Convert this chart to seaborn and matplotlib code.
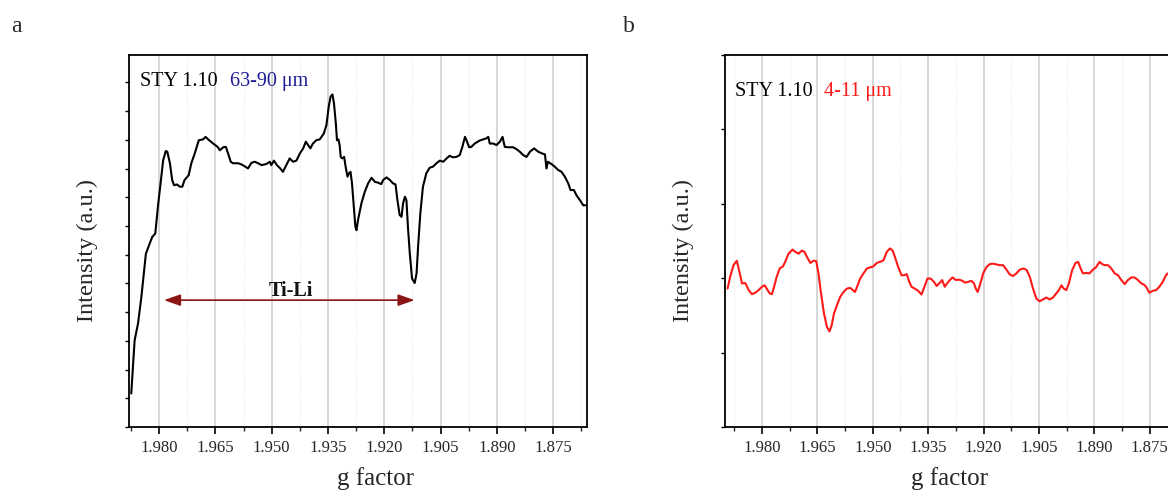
import numpy as np
import pandas as pd
import matplotlib
matplotlib.use("Agg")
import matplotlib.pyplot as plt
from matplotlib.ticker import MultipleLocator, NullFormatter
import seaborn as sns

# ---------------- data ----------------
g_a = [1.9874, 1.9865, 1.9856, 1.9847, 1.9835, 1.9825, 1.9818, 1.9810, 1.9803, 1.9796,
       1.9789, 1.9782, 1.9778, 1.9771, 1.9765, 1.9760, 1.9752, 1.9745, 1.9738, 1.9732,
       1.9721, 1.9714, 1.9705, 1.9694, 1.9683, 1.9676, 1.9669, 1.9656, 1.9644, 1.9638,
       1.9629, 1.9622, 1.9616, 1.9609, 1.9603, 1.9589, 1.9581, 1.9572, 1.9563, 1.9554,
       1.9545, 1.9536, 1.9527, 1.9514, 1.9505, 1.9501, 1.9494, 1.9486, 1.9477, 1.9470,
       1.9461, 1.9452, 1.9443, 1.9434, 1.9425, 1.9416, 1.9409, 1.9403, 1.9397, 1.9390,
       1.9381, 1.9372, 1.9361, 1.9354, 1.9348, 1.9343, 1.9338, 1.9334, 1.9329, 1.9326,
       1.9322, 1.9319, 1.9316, 1.9312, 1.9307, 1.9303, 1.9298, 1.9294, 1.9290, 1.9286,
       1.9281, 1.9277, 1.9274, 1.9270, 1.9261, 1.9252, 1.9243, 1.9234, 1.9225, 1.9217,
       1.9208, 1.9203, 1.9194, 1.9185, 1.9177, 1.9170, 1.9165, 1.9159, 1.9154, 1.9150,
       1.9145, 1.9141, 1.9137, 1.9132, 1.9126, 1.9119, 1.9114, 1.9110, 1.9104, 1.9097,
       1.9088, 1.9079, 1.9070, 1.9061, 1.9052, 1.9043, 1.9034, 1.9026, 1.9017, 1.9008,
       1.8999, 1.8992, 1.8985, 1.8981, 1.8974, 1.8968, 1.8959, 1.8946, 1.8937, 1.8928,
       1.8923, 1.8919, 1.8910, 1.8901, 1.8892, 1.8885, 1.8879, 1.8870, 1.8857, 1.8848,
       1.8839, 1.8830, 1.8821, 1.8812, 1.8801, 1.8790, 1.8779, 1.8772, 1.8768, 1.8764,
       1.8755, 1.8746, 1.8737, 1.8728, 1.8719, 1.8710, 1.8704, 1.8695, 1.8688, 1.8679,
       1.8670, 1.8662]
int_a = [9.0, 23.3, 27.8, 35.0, 46.6, 49.3, 51.1, 52.0, 59.2, 65.5,
         71.7, 74.2, 74.0, 70.9, 66.4, 65.0, 65.2, 64.6, 64.6, 66.4,
         67.7, 70.9, 73.5, 77.1, 77.3, 78.0, 77.3, 76.2, 75.3, 74.4,
         75.2, 75.3, 73.5, 71.3, 70.9, 70.9, 70.6, 70.1, 69.5, 71.0,
         71.3, 70.9, 70.4, 70.7, 71.3, 70.4, 71.6, 70.4, 69.5, 68.6,
         70.4, 72.2, 71.3, 71.6, 73.5, 74.9, 76.7, 75.8, 74.9, 76.2,
         77.1, 77.3, 78.9, 81.2, 86.1, 88.8, 89.4, 87.0, 81.6, 77.1,
         77.3, 75.8, 72.6, 72.2, 72.6, 70.0, 67.3, 68.2, 68.6, 65.5,
         59.2, 53.8, 52.9, 55.6, 60.1, 63.2, 65.5, 67.0, 65.9, 65.7,
         65.3, 66.4, 67.1, 66.4, 65.5, 65.2, 61.0, 57.0, 56.5, 60.1,
         61.9, 61.0, 53.8, 46.6, 39.9, 38.7, 41.3, 48.4, 57.4, 64.6,
         68.2, 69.7, 70.0, 70.9, 71.6, 71.3, 72.2, 72.9, 72.5, 72.6,
         73.1, 75.3, 78.0, 77.1, 75.2, 75.3, 76.2, 77.0, 77.3, 77.6,
         78.0, 76.2, 76.2, 75.8, 76.7, 78.0, 75.3, 75.2, 75.2, 74.7,
         74.0, 73.1, 72.6, 74.0, 74.9, 74.0, 73.5, 73.3, 69.5, 71.3,
         70.7, 70.0, 69.1, 68.6, 67.3, 65.5, 63.7, 63.7, 62.3, 61.0,
         59.6, 59.6]

g_b = [1.9893, 1.9886, 1.9877, 1.9868, 1.9860, 1.9854, 1.9845, 1.9836, 1.9827, 1.9818,
       1.9809, 1.9800, 1.9793, 1.9787, 1.9779, 1.9773, 1.9767, 1.9760, 1.9752, 1.9743,
       1.9737, 1.9728, 1.9717, 1.9710, 1.9701, 1.9692, 1.9685, 1.9678, 1.9669, 1.9660,
       1.9653, 1.9647, 1.9640, 1.9632, 1.9624, 1.9617, 1.9611, 1.9605, 1.9597, 1.9588,
       1.9579, 1.9570, 1.9561, 1.9554, 1.9548, 1.9542, 1.9534, 1.9525, 1.9516, 1.9507,
       1.9498, 1.9489, 1.9480, 1.9471, 1.9462, 1.9453, 1.9446, 1.9440, 1.9431, 1.9422,
       1.9415, 1.9408, 1.9401, 1.9395, 1.9386, 1.9377, 1.9368, 1.9360, 1.9352, 1.9343,
       1.9334, 1.9327, 1.9320, 1.9312, 1.9305, 1.9298, 1.9291, 1.9284, 1.9275, 1.9266,
       1.9257, 1.9251, 1.9242, 1.9233, 1.9226, 1.9221, 1.9216, 1.9210, 1.9201, 1.9192,
       1.9183, 1.9174, 1.9165, 1.9156, 1.9147, 1.9138, 1.9129, 1.9120, 1.9111, 1.9102,
       1.9093, 1.9084, 1.9075, 1.9066, 1.9057, 1.9048, 1.9039, 1.9030, 1.9021, 1.9012,
       1.9003, 1.8996, 1.8989, 1.8983, 1.8976, 1.8969, 1.8960, 1.8951, 1.8944, 1.8937,
       1.8931, 1.8922, 1.8913, 1.8904, 1.8895, 1.8886, 1.8879, 1.8872, 1.8863, 1.8854,
       1.8845, 1.8836, 1.8827, 1.8818, 1.8809, 1.8800, 1.8791, 1.8782, 1.8773, 1.8766,
       1.8760, 1.8751, 1.8742, 1.8733, 1.8724, 1.8715, 1.8706, 1.8701]
int_b = [37.2, 40.4, 43.5, 44.7, 41.3, 38.6, 38.7, 36.8, 35.7, 36.1,
         36.8, 37.7, 38.1, 37.2, 35.9, 35.7, 37.7, 40.4, 42.6, 43.2,
         44.4, 46.6, 47.7, 47.1, 46.6, 47.4, 47.1, 45.7, 44.1, 44.7,
         44.6, 41.3, 35.9, 30.5, 26.9, 25.7, 27.4, 30.5, 32.7, 35.0,
         36.3, 37.2, 37.4, 36.8, 36.3, 37.8, 39.9, 41.3, 42.6, 42.9,
         43.2, 44.1, 44.4, 44.8, 47.1, 48.0, 47.4, 45.7, 43.0, 40.8,
         40.8, 41.1, 39.0, 37.7, 37.2, 36.6, 35.6, 37.7, 39.9, 39.9,
         39.0, 37.9, 38.6, 39.5, 37.7, 38.7, 39.5, 40.2, 39.5, 39.6,
         39.3, 38.8, 39.0, 39.3, 38.6, 37.2, 36.3, 38.1, 41.3, 43.0,
         43.8, 43.9, 43.7, 43.5, 43.5, 42.3, 41.0, 40.6, 41.3, 42.3,
         42.6, 42.3, 40.4, 37.2, 34.5, 33.8, 34.3, 34.8, 34.3, 34.8,
         35.9, 36.8, 38.1, 37.2, 36.8, 38.6, 42.2, 44.1, 44.4, 42.6,
         41.3, 41.4, 41.3, 42.3, 43.0, 44.4, 43.8, 43.5, 43.5, 42.6,
         41.3, 40.8, 39.5, 38.4, 39.5, 40.2, 40.2, 39.5, 38.6, 38.3,
         37.7, 36.1, 36.6, 36.8, 37.7, 39.0, 40.8, 41.3]

x_ticks = [1.980, 1.965, 1.950, 1.935, 1.920, 1.905, 1.890, 1.875]
x_tick_labels = ["1.980", "1.965", "1.950", "1.935", "1.920", "1.905", "1.890", "1.875"]
panel_letters = ["a", "b"]
sample_name = "STY 1.10"
size_labels = ["63-90 \u03bcm", "4-11 \u03bcm"]
arrow_span = [1.9787, 1.9119]   # g-factor range of the Ti-Li arrow
arrow_level = 34.1
arrow_label = "Ti-Li"

# ---------------- styling ----------------
sns.set_style("ticks")
serif = ["Liberation Serif", "DejaVu Serif"]
plt.rcParams["font.family"] = serif

fig = plt.figure(figsize=(11.68, 4.97), dpi=100)
W, H = 1168.0, 497.0
ax_a = fig.add_axes([129 / W, 1 - 427 / H, 458 / W, 372 / H])
ax_b = fig.add_axes([725 / W, 1 - 427 / H, 458 / W, 372 / H])

df_a = pd.DataFrame({"g": g_a, "I": int_a})
df_b = pd.DataFrame({"g": g_b, "I": int_b})

sns.lineplot(data=df_a, x="g", y="I", sort=False, estimator=None, ax=ax_a,
             color="black", linewidth=1.5, zorder=3)
sns.lineplot(data=df_b, x="g", y="I", sort=False, estimator=None, ax=ax_b,
             color="#ff1a1a", linewidth=1.5, zorder=3)

for ax, xl, ystep, label_x in [
        (ax_a, (1.988, 1.866), 7.72, 0.539),
        (ax_b, (1.990, 1.866), 20.0, 0.491)]:
    ax.set_xlim(*xl)
    ax.set_ylim(0, 100)
    ax.set_xticks(x_ticks)
    ax.set_xticklabels(x_tick_labels)
    ax.xaxis.set_minor_locator(MultipleLocator(0.0075))
    ax.yaxis.set_major_locator(MultipleLocator(ystep))
    ax.yaxis.set_major_formatter(NullFormatter())
    ax.tick_params(axis="both", which="major", direction="out", length=5, width=1.2,
                   labelsize=12, color="black", pad=4.5)
    ax.tick_params(axis="x", which="minor", direction="out", length=3, width=1.0)
    ax.tick_params(axis="y", which="major", length=3, width=1.0)
    for s in ax.spines.values():
        s.set_linewidth(1.3)
        s.set_color("black")
    ax.grid(which="major", axis="x", color="#cfcfcf", linewidth=1.2, linestyle="-", zorder=0)
    ax.grid(which="minor", axis="x", color="#e6e6e6", linewidth=0.8, linestyle=":", zorder=0)
    ax.set_axisbelow(True)
    ax.set_xlabel("g factor", fontsize=18)
    ax.xaxis.set_label_coords(label_x, -0.108)
    ax.set_ylabel("Intensity (a.u.)", fontsize=17.5)
    ax.yaxis.set_label_coords(-0.067, 0.475)

# panel annotations
ax_a.text(0.025, 0.955, sample_name, transform=ax_a.transAxes, fontsize=14.5,
          ha="left", va="top", color="black")
ax_a.text(0.221, 0.955, size_labels[0], transform=ax_a.transAxes, fontsize=14.5,
          ha="left", va="top", color="#1c1c96")
ax_b.text(0.022, 0.928, sample_name, transform=ax_b.transAxes, fontsize=14.5,
          ha="left", va="top", color="black")
ax_b.text(0.216, 0.928, size_labels[1], transform=ax_b.transAxes, fontsize=14.5,
          ha="left", va="top", color="#ff1a1a")

ax_a.annotate("", xy=(arrow_span[1], arrow_level), xytext=(arrow_span[0], arrow_level),
              arrowprops=dict(arrowstyle="<|-|>,head_length=1.0,head_width=0.35",
                              color="#8b1414", lw=1.2, shrinkA=0, shrinkB=0), zorder=4)
ax_a.text((arrow_span[0] + arrow_span[1]) / 2 - 0.0005, arrow_level - 0.3, arrow_label,
          fontsize=14.5, fontweight="bold", ha="center", va="bottom", color="#111111")

fig.text(16 / W, 1 - 26 / H, panel_letters[0], fontsize=17, ha="center", va="center")
fig.text(629 / W, 1 - 26 / H, panel_letters[1], fontsize=17, ha="center", va="center")

fig.savefig("out.png", dpi=100)
